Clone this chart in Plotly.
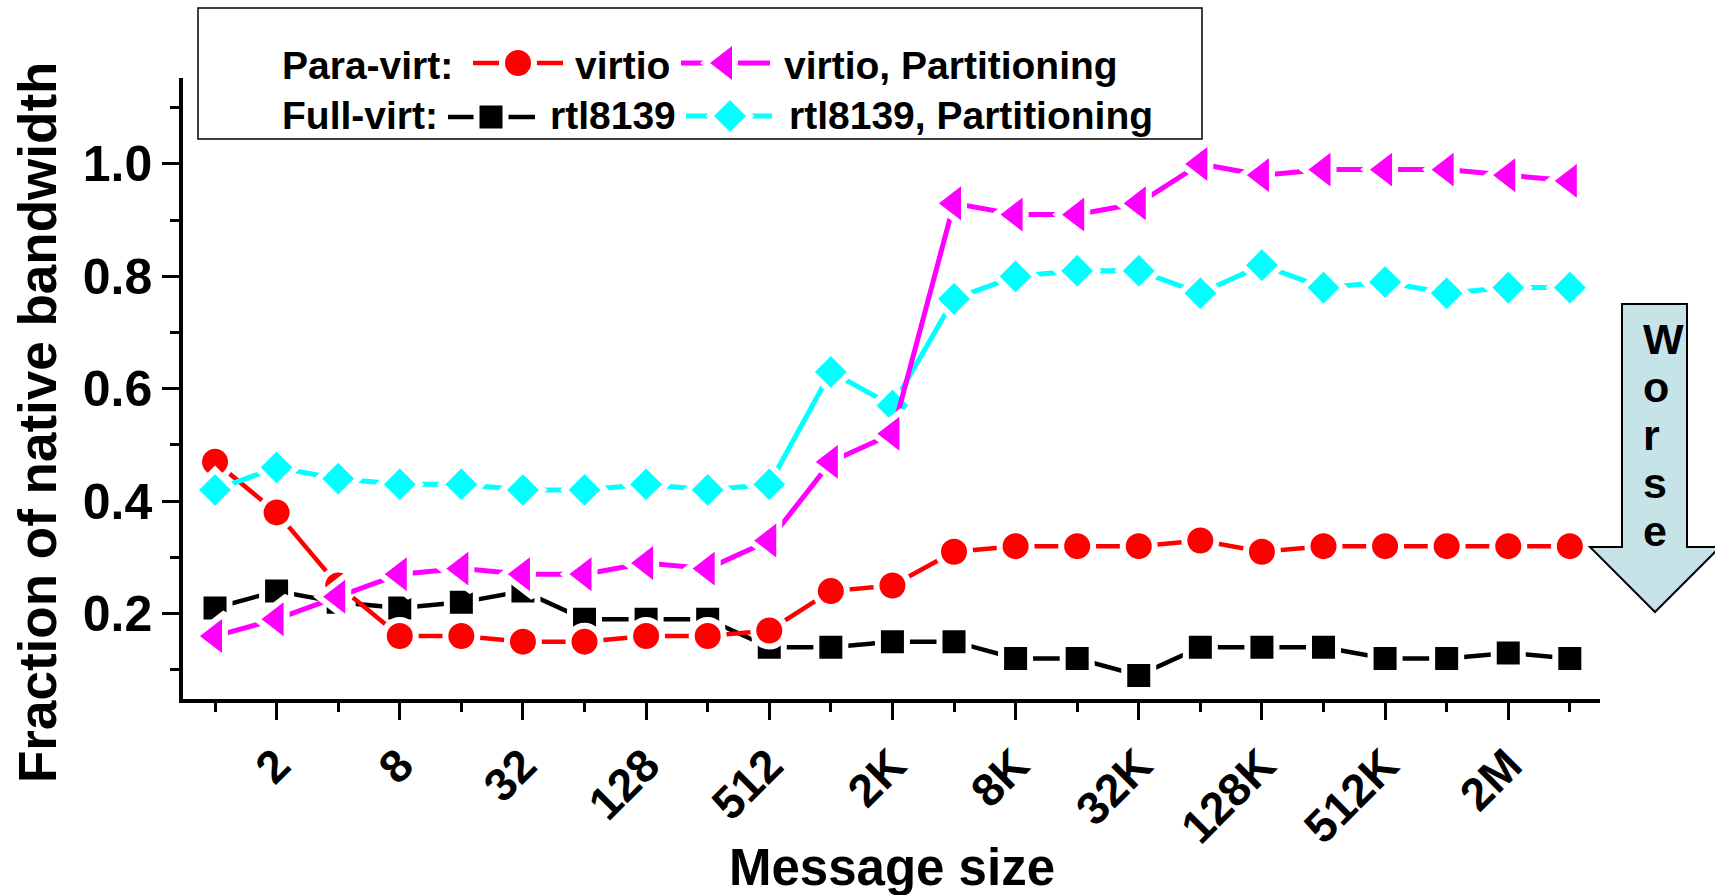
import math
import plotly.graph_objects as go

# ---- data -------------------------------------------------------------
message_sizes = [1, 2, 4, 8, 16, 32, 64, 128, 256, 512, 1024, 2048, 4096,
                 8192, 16384, 32768, 65536, 131072, 262144, 524288,
                 1048576, 2097152, 4194304]

tick_sizes = [2, 8, 32, 128, 512, 2048, 8192, 32768, 131072, 524288, 2097152]
tick_labels = ["2", "8", "32", "128", "512", "2K", "8K", "32K", "128K", "512K", "2M"]
minor_tick_sizes = [1, 4, 16, 64, 256, 1024, 4096, 16384, 65536, 262144,
                    1048576, 4194304]

y_tick_values = [0.2, 0.4, 0.6, 0.8, 1.0]
y_minor_values = [0.1, 0.3, 0.5, 0.7, 0.9, 1.1]

virtio = [0.47, 0.38, 0.25, 0.16, 0.16, 0.15, 0.15, 0.16, 0.16, 0.17, 0.24, 0.25,
          0.31, 0.32, 0.32, 0.32, 0.33, 0.31, 0.32, 0.32, 0.32, 0.32, 0.32]
virtio_partitioning = [0.16, 0.19, 0.23, 0.27, 0.28, 0.27, 0.27, 0.29, 0.28, 0.33,
                       0.47, 0.52, 0.93, 0.91, 0.91, 0.93, 1.00, 0.98, 0.99, 0.99,
                       0.99, 0.98, 0.97]
rtl8139 = [0.21, 0.24, 0.22, 0.21, 0.22, 0.24, 0.19, 0.19, 0.19, 0.14, 0.14, 0.15,
           0.15, 0.12, 0.12, 0.09, 0.14, 0.14, 0.14, 0.12, 0.12, 0.13, 0.12]
rtl8139_partitioning = [0.42, 0.46, 0.44, 0.43, 0.43, 0.42, 0.42, 0.43, 0.42, 0.43,
                        0.63, 0.57, 0.76, 0.80, 0.81, 0.81, 0.77, 0.82, 0.78, 0.79,
                        0.77, 0.78, 0.78]

# ---- page geometry (pixels) --------------------------------------------
W, H = 1715, 895
PLOT_L, PLOT_R, PLOT_T, PLOT_B = 183, 1600, 78, 699
FONT = "Arial, 'Liberation Sans', sans-serif"
GAP = 6  # white halo around symbols, leaves a small gap in the line

# drawing order: later series sit on top
series = [
    dict(name="rtl8139", values=rtl8139, color="#000000", symbol="square",
         size=29, width=4.5, row=117, seg=(448, 535), mark=491),
    dict(name="virtio", values=virtio, color="#ff0000", symbol="circle",
         size=32, width=4.5, row=63, seg=(473, 563), mark=518),
    dict(name="rtl8139, Partitioning", values=rtl8139_partitioning, color="#00ffff",
         symbol="diamond", size=31, width=5, row=116, seg=(686, 772), mark=730),
    dict(name="virtio, Partitioning", values=virtio_partitioning, color="#ff00ff",
         symbol="triangle-left", size=40, width=5, row=63, seg=(681, 770), mark=725),
]

fig = go.Figure()

for s in series:
    fig.add_trace(go.Scatter(
        x=message_sizes, y=s["values"], name=s["name"],
        mode="lines+markers",
        line=dict(color=s["color"], width=s["width"]),
        marker=dict(symbol=s["symbol"], size=s["size"], color=s["color"],
                    line=dict(color="white", width=GAP)),
        xaxis="x", yaxis="y", showlegend=False,
    ))

# legend samples, drawn on a full-page overlay subplot in pixel units
for s in series:
    fig.add_trace(go.Scatter(
        x=list(s["seg"]), y=[s["row"], s["row"]], mode="lines",
        line=dict(color=s["color"], width=s["width"]),
        xaxis="x2", yaxis="y2", showlegend=False, hoverinfo="skip",
    ))
    fig.add_trace(go.Scatter(
        x=[s["mark"]], y=[s["row"]], mode="markers",
        marker=dict(symbol=s["symbol"], size=s["size"], color=s["color"],
                    line=dict(color="white", width=GAP)),
        xaxis="x2", yaxis="y2", showlegend=False, hoverinfo="skip",
    ))

annotations = []


def label(x, y, text, size, xanchor="left", yanchor="middle", angle=0, align="left"):
    annotations.append(dict(
        x=x, y=y, xref="x2", yref="y2", text=text, showarrow=False,
        xanchor=xanchor, yanchor=yanchor, textangle=angle, align=align,
        font=dict(family=FONT, size=size, color="black", weight="bold"),
    ))


# legend text
label(280, 65, "Para-virt:", 39)
label(573, 65, "virtio", 39)
label(782, 65, "virtio, Partitioning", 39)
label(280, 115, "Full-virt:", 39)
label(548, 115, "rtl8139", 39)
label(787, 115, "rtl8139, Partitioning", 39)

# axis titles
label(37, 423, "Fraction of native bandwidth", 53, xanchor="center", angle=-90)
label((PLOT_L + PLOT_R) / 2, 867, "Message size", 51, xanchor="center")

# "Worse", one letter per line inside the arrow
worse = "<br>".join("<span style='font-size:43px'>%s</span>" % ch for ch in "Worse")
label(1641, 313, worse, 37, yanchor="top")

shapes = [
    # legend frame
    dict(type="rect", xref="x2", yref="y2", x0=198, x1=1202, y0=8, y1=139,
         line=dict(color="black", width=1.5), fillcolor="rgba(0,0,0,0)"),
    # "Worse" arrow
    dict(type="path", xref="x2", yref="y2",
         path="M1622,304 L1687,304 L1687,547 L1720,547 L1655,612 L1590,547 L1622,547 Z",
         fillcolor="#c6e4e8", line=dict(color="black", width=2), layer="below"),
]

tick_font = dict(family=FONT, size=46, color="black", weight="bold")

fig.update_layout(
    width=W, height=H,
    margin=dict(l=0, r=0, t=0, b=0),
    paper_bgcolor="white",
    plot_bgcolor="rgba(0,0,0,0)",
    showlegend=False,
    annotations=annotations,
    shapes=shapes,
    xaxis=dict(
        type="log",
        domain=[PLOT_L / W, PLOT_R / W],
        range=[math.log10(2 ** -0.52), math.log10(2 ** 22.49)],
        anchor="y",
        tickmode="array", tickvals=tick_sizes, ticktext=tick_labels,
        ticks="outside", ticklen=17, tickwidth=3, tickcolor="black",
        tickangle=-45, tickfont=tick_font,
        minor=dict(tickmode="array", tickvals=minor_tick_sizes, ticks="outside",
                   ticklen=9, tickwidth=3, tickcolor="black", showgrid=False),
        showline=True, linewidth=3.5, linecolor="black",
        showgrid=False, zeroline=False, automargin=False,
    ),
    yaxis=dict(
        domain=[(H - PLOT_B) / H, (H - PLOT_T) / H],
        range=[0.048, 1.153],
        anchor="x",
        tickmode="array", tickvals=y_tick_values, tickformat=".1f",
        ticks="outside", ticklen=17, tickwidth=3, tickcolor="black",
        tickfont=dict(family=FONT, size=50, color="black", weight="bold"),
        minor=dict(tickmode="array", tickvals=y_minor_values, ticks="outside",
                   ticklen=9, tickwidth=3, tickcolor="black", showgrid=False),
        showline=True, linewidth=3.5, linecolor="black",
        showgrid=False, zeroline=False, automargin=False,
    ),
    xaxis2=dict(domain=[0, 1], range=[0, W], anchor="y2", visible=False,
                fixedrange=True),
    yaxis2=dict(domain=[0, 1], range=[H, 0], anchor="x2", visible=False,
                fixedrange=True),
)

fig.write_html("out.html")
